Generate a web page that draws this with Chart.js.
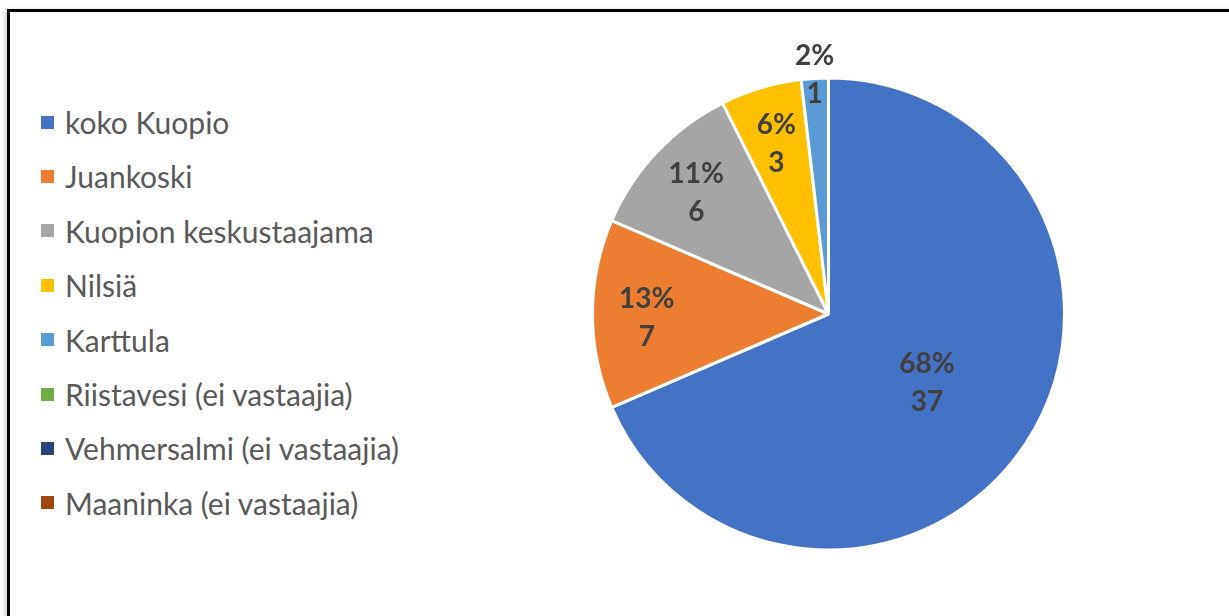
<!DOCTYPE html>
<html>
<head>
<meta charset="utf-8">
<script src="https://cdn.jsdelivr.net/npm/chart.js@4"></script>
<style>
  body { margin: 0; background: #fff; width: 1229px; height: 616px; overflow: hidden; position: relative; font-family: Lato, "Open Sans", sans-serif; }
  .kehys { position: absolute; left: 7px; top: 9px; width: 1240px; height: 620px; border-top: 3px solid #000; border-left: 3px solid #000; box-shadow: -3px 0 3px rgba(0,0,0,0.15); }
  #myChart { position: absolute; left: 0; top: 0; }
  .selite { position: absolute; left: 41px; top: 0; }
  .rivi { position: absolute; left: 0; white-space: nowrap; height: 30px; display: flex; align-items: center; }
  .laatikko { width: 13px; height: 13px; margin-right: 11px; }
  .teksti { font-size: 30px; line-height: 30px; color: #595959; }
</style>
</head>
<body>
<div class="kehys"></div>
<div class="selite" id="selite"></div>
<canvas id="myChart" width="1229" height="616"></canvas>
<script>
// alueet ja vastaajamäärät
const alueet = ["koko Kuopio", "Juankoski", "Kuopion keskustaajama", "Nilsiä", "Karttula", "Riistavesi (ei vastaajia)", "Vehmersalmi (ei vastaajia)", "Maaninka (ei vastaajia)"];
const vastaajat = [37, 7, 6, 3, 1, 0, 0, 0];
const varit = ["#4472C4", "#ED7D31", "#A5A5A5", "#FFC000", "#5B9BD5", "#70AD47", "#264478", "#9E480E"];

// TODO selite html:nä
const selite = document.getElementById("selite");
let html = "";
alueet.forEach((nimi, i) => {
    html += `<div class="rivi" style="top:${107 + i * 54.4}px">
        <div class="laatikko" style="background:${varit[i]}"></div>
        <span class="teksti">${nimi}</span>
    </div>`;
});
selite.innerHTML = html;

//* prosentit niin että summa on 100 (suurimman jakojäännöksen mukaan, kuten Excel)
const prosentit = (data) => {
    const summa = data.reduce((a, b) => a + b, 0);
    const raaka = data.map((v) => v / summa * 100);
    const tulos = raaka.map((v) => Math.floor(v));
    let jaljella = 100 - tulos.reduce((a, b) => a + b, 0);
    const jarjestys = raaka.map((v, i) => i).sort((a, b) => (raaka[b] - tulos[b]) - (raaka[a] - tulos[a]));
    for (let k = 0; k < jarjestys.length && jaljella > 0; k++) {
        if (data[jarjestys[k]] > 0) { tulos[jarjestys[k]]++; jaljella--; }
    }
    return tulos;
};

//! arvojen piirto sektoreihin
const arvoTekstit = {
    id: "arvoTekstit",
    afterDatasetsDraw(chart) {
        const ctx = chart.ctx;
        const meta = chart.getDatasetMeta(0);
        const data = chart.data.datasets[0].data;
        const summa = data.reduce((a, b) => a + b, 0);
        const pros = prosentit(data);
        ctx.save();
        ctx.font = "bold 28px Lato, 'Open Sans', sans-serif";
        ctx.fillStyle = "#404040";
        ctx.textAlign = "center";
        ctx.textBaseline = "middle";
        meta.data.forEach((arc, i) => {
            const arvo = data[i];
            if (!arvo) return;
            const osuus = arvo / summa;
            const p = arc.getProps(["x", "y", "startAngle", "endAngle", "outerRadius"], true);
            const kulma = (p.startAngle + p.endAngle) / 2;
            let r;
            let siirto = 4;
            if (osuus > 0.5) r = p.outerRadius * 0.5;
            else if (osuus > 0.03) r = p.outerRadius * 0.77;
            else { r = p.outerRadius + 3; siirto = 0; }
            const x = p.x + Math.cos(kulma) * r;
            const y = p.y + Math.sin(kulma) * r + siirto;
            ctx.fillText(pros[i] + "%", x, y - 19);
            ctx.fillText(String(arvo), x, y + 19);
        });
        ctx.restore();
    }
};

let myChart = new Chart(document.getElementById("myChart"), {
    type: "pie",
    data: {
        labels: alueet,
        datasets: [{
            data: vastaajat,
            backgroundColor: varit,
            borderColor: "#ffffff",
            borderWidth: 3
        }]
    },
    options: {
        responsive: false,
        animation: false,
        devicePixelRatio: 1,
        radius: 236,
        layout: { padding: { left: 428, right: 0, top: 12, bottom: 0 } },
        plugins: {
            legend: { display: false },
            tooltip: { enabled: false }
        }
    },
    plugins: [arvoTekstit]
});
</script>
</body>
</html>
